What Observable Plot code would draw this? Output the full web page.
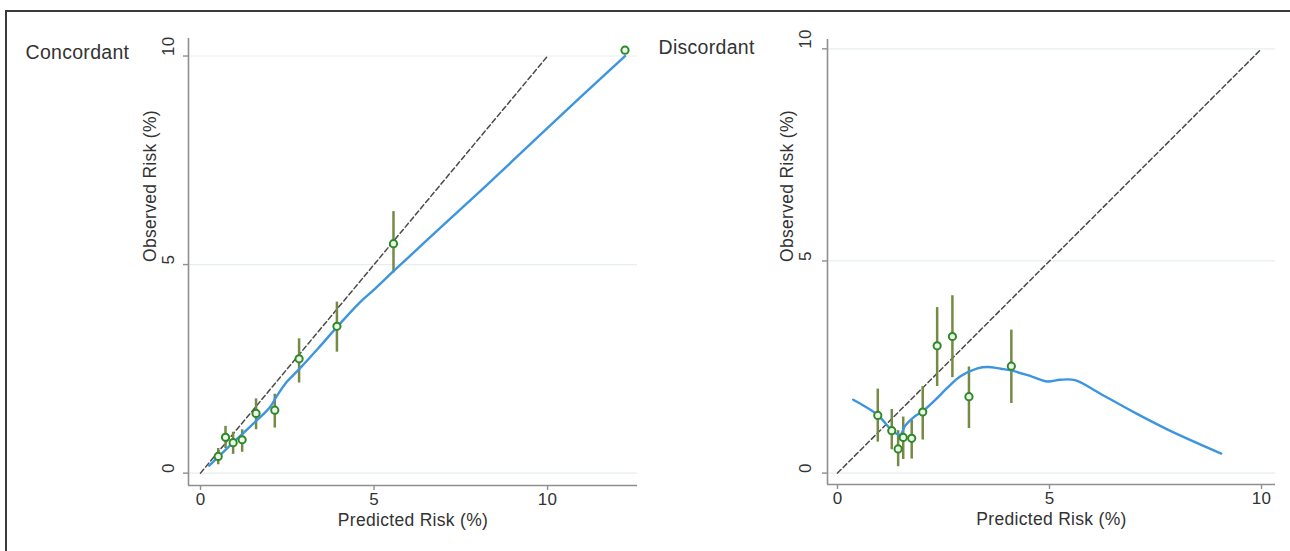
<!DOCTYPE html>
<html><head><meta charset="utf-8">
<script src="https://cdn.jsdelivr.net/npm/d3@7"></script>
<script src="https://cdn.jsdelivr.net/npm/@observablehq/plot@0.6"></script>
<style>
html,body{margin:0;padding:0;background:#fff;}
#wrap{position:relative;width:1290px;height:551px;overflow:hidden;background:#fff;}
#frame{position:absolute;left:5px;top:10px;width:1400px;height:700px;border-left:2px solid #3a3a3a;border-top:2px solid #3a3a3a;}
.panel{position:absolute;top:0;}
.panel text{letter-spacing:0.3px;}
</style></head><body>
<div id="wrap"><div id="frame"></div><div id="left" class="panel" style="left:0"></div><div id="right" class="panel" style="left:645px"></div></div>
<script>
// ---- text & ticks ----
const panelTitles = ["Concordant", "Discordant"];
const axisTicks = [0, 5, 10];
const xLabel = "Predicted Risk (%)";
const yLabel = "Observed Risk (%)";
const diagonal = [0, 10];

// ---- Concordant: grouped observed risk with 95% CI ----
const conPred = [0.51, 0.72, 0.94, 1.20, 1.60, 2.14, 2.84, 3.93, 5.56, 12.23];
const conObs  = [0.40, 0.86, 0.73, 0.80, 1.43, 1.51, 2.74, 3.52, 5.50, 10.14];
const conLo   = [0.20, 0.59, 0.45, 0.50, 1.04, 1.08, 2.16, 2.90, 4.80, 10.14];
const conHi   = [0.59, 1.12, 0.98, 1.04, 1.78, 1.89, 3.22, 4.10, 6.27, 10.14];
// Concordant smoothed calibration curve
const conCurveX = [0.25, 0.50, 1.00, 1.50, 2.00, 2.20, 2.50, 2.85, 3.40, 3.93, 4.60, 5.00, 5.56, 7.00, 8.50, 10.00, 12.23];
const conCurveY = [0.18, 0.38, 0.78, 1.17, 1.58, 1.85, 2.20, 2.50, 3.00, 3.50, 4.10, 4.40, 4.84, 5.95, 7.10, 8.28, 10.00];

// ---- Discordant ----
const disPred = [0.95, 1.28, 1.43, 1.55, 1.75, 2.01, 2.35, 2.71, 3.10, 4.10];
const disObs  = [1.36, 1.00, 0.57, 0.84, 0.82, 1.44, 3.00, 3.22, 1.80, 2.52];
const disLo   = [0.73, 0.55, 0.15, 0.32, 0.33, 0.78, 2.04, 2.25, 1.05, 1.64];
const disHi   = [1.98, 1.50, 1.00, 1.32, 1.25, 2.04, 3.90, 4.18, 2.50, 3.37];
const disCurveX = [0.37, 0.60, 0.95, 1.27, 1.47, 1.60, 1.80, 2.00, 2.30, 2.60, 2.90, 3.30, 3.55, 3.85, 4.10, 4.60, 4.95, 5.25, 5.60, 6.20, 7.00, 7.80, 9.05];
const disCurveY = [1.73, 1.60, 1.37, 1.02, 0.90, 1.12, 1.32, 1.45, 1.72, 2.02, 2.28, 2.47, 2.50, 2.46, 2.42, 2.27, 2.16, 2.20, 2.19, 1.87, 1.43, 1.02, 0.46];

const C = {dot: "#2e8a28", ci: "#748a45", curve: "#3d95e0", diag: "#4a4a4a", axis: "#8f8f8f", grid: "#e7eef0", text: "#333"};
const FONT = "'Liberation Sans', Arial, Helvetica, sans-serif";

function panel(o) {
  const pts = o.pred.map((x, i) => ({x, y: o.obs[i], lo: o.lo[i], hi: o.hi[i]}));
  const curve = o.cx.map((x, i) => ({x, y: o.cy[i]}));
  return Plot.plot({
    width: 645, height: 551,
    marginLeft: o.ml, marginRight: o.mr, marginTop: o.mt, marginBottom: o.mb,
    style: {fontFamily: FONT, background: "transparent", overflow: "visible"},
    x: {domain: o.xd, ticks: axisTicks},
    y: {domain: o.yd, ticks: axisTicks},
    marks: [
      Plot.ruleY(axisTicks, {y: d => d, stroke: C.grid, strokeWidth: 1.2}),
      Plot.ruleX([o.xd[0]], {stroke: C.axis, strokeWidth: 1.6}),
      Plot.ruleY([o.yd[0]], {stroke: C.axis, strokeWidth: 1.6}),
      Plot.axisY({ticks: axisTicks, tickSize: 5, stroke: C.axis, strokeWidth: 1.4, fill: "none", label: null}),
      Plot.axisX({ticks: axisTicks, tickSize: 5, stroke: C.axis, strokeWidth: 1.4, fill: "none", label: null}),
      Plot.text(axisTicks, {y: d => d, text: d => String(d), frameAnchor: "left", dx: o.tdx, rotate: -90, fontSize: 17, fill: C.text}),
      Plot.text(axisTicks, {x: d => d, text: d => String(d), frameAnchor: "bottom", dy: 19, fontSize: 17, fill: C.text}),
      Plot.text([xLabel], {frameAnchor: "bottom", dy: 40, fontSize: 17.5, fill: C.text, text: d => d}),
      Plot.text([yLabel], {frameAnchor: "left", dx: o.ldx, rotate: -90, fontSize: 17.5, fill: C.text, text: d => d}),
      Plot.text([o.title], {frameAnchor: "top-left", dx: o.titleDx, dy: o.titleDy, textAnchor: "start", fontSize: 19.5, fill: C.text, text: d => d}),
      Plot.line(diagonal, {x: d => d, y: d => d, stroke: C.diag, strokeWidth: 1.5, strokeDasharray: "5,3"}),
      Plot.ruleX(pts, {x: "x", y1: "lo", y2: "hi", stroke: C.ci, strokeWidth: 2.5}),
      Plot.line(curve, {x: "x", y: "y", stroke: C.curve, strokeWidth: 2.4, curve: "catmull-rom"}),
      Plot.dot(pts, {x: "x", y: "y", r: 3.6, stroke: C.dot, strokeWidth: 2, fill: "#eef7ea"})
    ]
  });
}

document.getElementById("left").append(panel({
  title: panelTitles[0], pred: conPred, obs: conObs, lo: conLo, hi: conHi, cx: conCurveX, cy: conCurveY,
  ml: 188, mr: 8, mt: 38, mb: 66, xd: [-0.346, 12.59], yd: [-0.297, 10.42],
  tdx: -20, ldx: -38, titleDx: -163, titleDy: 7
}));
document.getElementById("right").append(panel({
  title: panelTitles[1], pred: disPred, obs: disObs, lo: disLo, hi: disHi, cx: disCurveX, cy: disCurveY,
  ml: 182, mr: 15, mt: 39, mb: 67, xd: [-0.236, 10.33], yd: [-0.269, 10.22],
  tdx: -22, ldx: -40, titleDx: -169, titleDy: 1
}));
</script>
</body></html>
